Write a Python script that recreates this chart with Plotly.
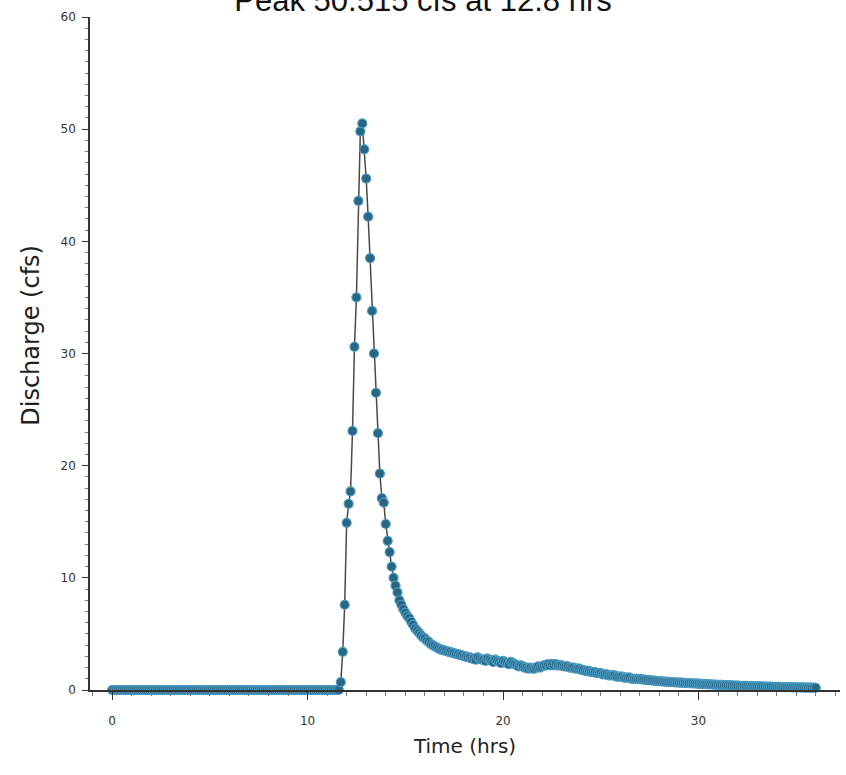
import plotly.graph_objects as go

TITLE = "Peak 50.515 cfs at 12.8 hrs"
X_TITLE = "Time (hrs)"
Y_TITLE = "Discharge (cfs)"
START_HRS = 0.0
STEP_HRS = 0.1

# 0.0 .. 11.6 hrs
baseline_cfs = [
    0.0, 0.0, 0.0, 0.0, 0.0, 0.0, 0.0, 0.0, 0.0, 0.0,
    0.0, 0.0, 0.0, 0.0, 0.0, 0.0, 0.0, 0.0, 0.0, 0.0,
    0.0, 0.0, 0.0, 0.0, 0.0, 0.0, 0.0, 0.0, 0.0, 0.0,
    0.0, 0.0, 0.0, 0.0, 0.0, 0.0, 0.0, 0.0, 0.0, 0.0,
    0.0, 0.0, 0.0, 0.0, 0.0, 0.0, 0.0, 0.0, 0.0, 0.0,
    0.0, 0.0, 0.0, 0.0, 0.0, 0.0, 0.0, 0.0, 0.0, 0.0,
    0.0, 0.0, 0.0, 0.0, 0.0, 0.0, 0.0, 0.0, 0.0, 0.0,
    0.0, 0.0, 0.0, 0.0, 0.0, 0.0, 0.0, 0.0, 0.0, 0.0,
    0.0, 0.0, 0.0, 0.0, 0.0, 0.0, 0.0, 0.0, 0.0, 0.0,
    0.0, 0.0, 0.0, 0.0, 0.0, 0.0, 0.0, 0.0, 0.0, 0.0,
    0.0, 0.0, 0.0, 0.0, 0.0, 0.0, 0.0, 0.0, 0.0, 0.0,
    0.0, 0.0, 0.0, 0.0, 0.0, 0.0, 0.0,
]
# 11.7 .. 12.8 hrs
rising_cfs = [0.7, 3.4, 7.6, 14.9, 16.6, 17.7, 23.1, 30.6, 35.0, 43.6, 49.8, 50.515]
# 12.9 .. 14.3 hrs
falling_cfs = [48.2, 45.6, 42.2, 38.5, 33.8, 30.0, 26.5, 22.9, 19.3, 17.1,
               16.7, 14.8, 13.3, 12.3, 11.0]
# 14.4 .. 36.0 hrs
recession_cfs = [
    10.0, 9.3, 8.7, 8.0, 7.6, 7.2,
    6.9, 6.6, 6.4, 6.1, 5.8, 5.5, 5.3, 5.1, 4.9, 4.7,
    4.6, 4.4, 4.3, 4.1, 4.0, 3.9, 3.8, 3.7, 3.6, 3.6,
    3.5, 3.5, 3.4, 3.4, 3.3, 3.3, 3.2, 3.2, 3.1, 3.1,
    3.0, 3.0, 2.9, 2.9, 2.8, 2.8, 2.7, 2.9, 2.8, 2.7,
    2.7, 2.6, 2.8, 2.7, 2.6, 2.5, 2.7, 2.6, 2.5, 2.4,
    2.6, 2.5, 2.4, 2.3, 2.5, 2.4, 2.3, 2.2, 2.1, 2.2,
    2.1, 2.0, 2.0, 1.9, 2.0, 1.9, 1.9, 2.0, 2.1, 2.0,
    2.1, 2.2, 2.2, 2.3, 2.2, 2.3, 2.2, 2.3, 2.2, 2.2,
    2.2, 2.1, 2.1, 2.1, 2.0, 2.0, 2.0, 1.9, 1.9, 1.9,
    1.8, 1.8, 1.7, 1.7, 1.7, 1.6, 1.6, 1.6, 1.5, 1.5,
    1.5, 1.4, 1.4, 1.4, 1.3, 1.3, 1.3, 1.3, 1.2, 1.2,
    1.2, 1.2, 1.1, 1.1, 1.1, 1.1, 1.0, 1.0, 1.0, 1.0,
    0.97, 0.95, 0.93, 0.91, 0.89, 0.87, 0.85, 0.83, 0.81, 0.80,
    0.78, 0.77, 0.76, 0.74, 0.73, 0.72, 0.70, 0.69, 0.68, 0.67,
    0.66, 0.65, 0.64, 0.63, 0.62, 0.61, 0.60, 0.59, 0.58, 0.57,
    0.56, 0.55, 0.54, 0.53, 0.52, 0.51, 0.50, 0.49, 0.48, 0.47,
    0.46, 0.46, 0.45, 0.44, 0.43, 0.43, 0.42, 0.41, 0.40, 0.40,
    0.39, 0.38, 0.38, 0.37, 0.36, 0.36, 0.35, 0.35, 0.34, 0.33,
    0.33, 0.32, 0.32, 0.31, 0.31, 0.30, 0.30, 0.29, 0.29, 0.28,
    0.28, 0.27, 0.27, 0.26, 0.26, 0.26, 0.25, 0.25, 0.24, 0.24,
    0.24, 0.23, 0.23, 0.23, 0.22, 0.22, 0.22, 0.21, 0.21, 0.21,
    0.20,
]

discharge_cfs = baseline_cfs + rising_cfs + falling_cfs + recession_cfs
time_hrs = [round(START_HRS + STEP_HRS * i, 1) for i in range(len(discharge_cfs))]

x_ticks = [0, 10, 20, 30]
y_ticks = [0, 10, 20, 30, 40, 50, 60]

# ---- figure ----
fig = go.Figure()
fig.add_trace(go.Scatter(
    x=time_hrs, y=discharge_cfs,
    mode="lines+markers",
    line=dict(color="#4e4843", width=1.5),
    marker=dict(size=9, color="#2a6581", line=dict(color="#4b9cc4", width=1.2)),
    cliponaxis=False,
    showlegend=False,
))

axis_font = dict(family="DejaVu Sans", size=12, color="#333333")

fig.update_layout(
    width=846, height=775,
    margin=dict(l=90, r=6, t=17, b=85, pad=0),
    paper_bgcolor="white", plot_bgcolor="white",
    title=dict(text=TITLE, x=0.5, xanchor="center", xref="container",
               y=1.0, yanchor="middle", yref="container",
               font=dict(family="Liberation Sans", size=31, color="#111111")),
    xaxis=dict(
        range=[-1.13, 37.24], tickvals=x_ticks, ticktext=[str(v) for v in x_ticks],
        showgrid=False, zeroline=False,
        showline=True, linecolor="#333333", linewidth=1.5,
        ticks="outside", ticklen=8, tickwidth=1.2, tickcolor="#333333",
        ticklabelstandoff=11, tickfont=axis_font,
        minor=dict(dtick=1, ticks="outside", ticklen=4, tickwidth=1, tickcolor="#777777", showgrid=False),
        title=dict(text=X_TITLE, standoff=12,
                   font=dict(family="DejaVu Sans", size=20, color="#222222")),
    ),
    yaxis=dict(
        range=[0, 60], tickvals=y_ticks, ticktext=[str(v) for v in y_ticks],
        showgrid=False, zeroline=False,
        showline=True, linecolor="#333333", linewidth=1.5,
        ticks="outside", ticklen=6, tickwidth=1.2, tickcolor="#333333",
        ticklabelstandoff=4, tickfont=axis_font,
        minor=dict(dtick=1, ticks="outside", ticklen=3, tickwidth=1, tickcolor="#777777", showgrid=False),
    ),
    annotations=[dict(
        text=Y_TITLE, textangle=-90, showarrow=False,
        xref="paper", yref="paper", x=-0.079, y=0.5275,
        xanchor="center", yanchor="middle",
        font=dict(family="DejaVu Sans", size=24, color="#222222"),
    )],
)

fig.write_html("out.html")
